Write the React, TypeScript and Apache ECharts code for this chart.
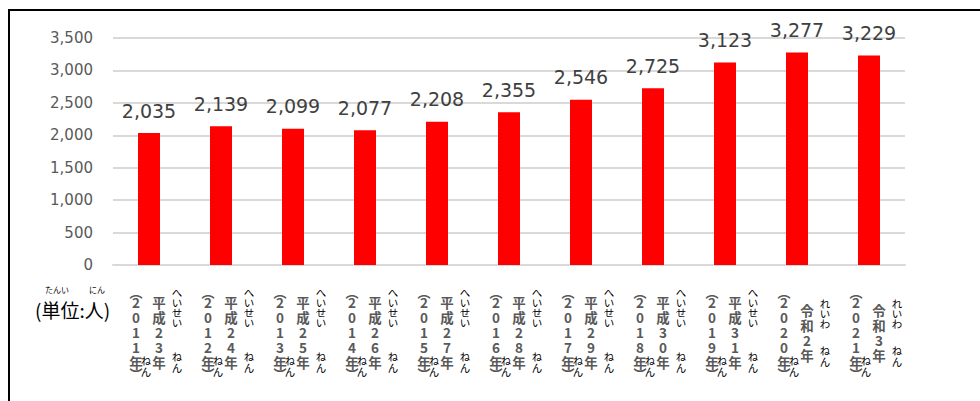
import React, { useEffect, useRef } from "react";
import * as echarts from "echarts";

const years = ["2011", "2012", "2013", "2014", "2015", "2016", "2017", "2018", "2019", "2020", "2021"];
const eraNames = ["平成23年", "平成24年", "平成25年", "平成26年", "平成27年", "平成28年", "平成29年", "平成30年", "平成31年", "令和2年", "令和3年"];
const eraKana = ["へいせい", "へいせい", "へいせい", "へいせい", "へいせい", "へいせい", "へいせい", "へいせい", "へいせい", "れいわ", "れいわ"];
const nenKana = "ねん";
const values = [2035, 2139, 2099, 2077, 2208, 2355, 2546, 2725, 3123, 3277, 3229];
const unitText = "(単位:人)";
const unitKana1 = "たんい";
const unitKana2 = "にん";

const JP = '"Noto Sans CJK JP", "Noto Sans", sans-serif';
const GRAY = "#595959";

export default function App() {
  const ref = useRef<HTMLDivElement>(null);
  useEffect(() => {
    if (!ref.current) return;
    const chart = echarts.init(ref.current, null, { renderer: "svg" });

    const yearFormatter = (v: string) =>
      ["{p|︵}", ...v.split("").map((c) => `{d|${c}}`), "{d|年}", "{q|︶}"].join("\n");
    const eraFormatter = (_v: string, i: number) => {
      const name = eraNames[i];
      const lines = name.split("").map((c) => `{d|${c}}`);
      if (name.length < 5) lines.unshift("{s| }");
      return lines.join("\n");
    };
    const kanaFormatter = (_v: string, i: number) => {
      const k = eraKana[i];
      const chars = k.split("").map((c) => `{k|${c}}`);
      const nen = nenKana.split("").map((c) => `{n|${c}}`);
      if (k.length === 4) return [...chars, "{g|　}", ...nen].join("\n");
      return ["{t|　}", ...chars, "{h|　}", ...nen].join("\n");
    };
    const rubyFormatter = () => nenKana.split("").map((c) => `{n|${c}}`).join("\n");

    const baseAxis = {
      type: "category" as const,
      data: years,
      position: "bottom" as const,
      gridIndex: 0,
      axisTick: { show: false },
    };

    chart.setOption({
      animation: false,
      grid: { left: 113, right: 75, top: 38, bottom: 136, containLabel: false },
      xAxis: [
        {
          ...baseAxis,
          axisLine: { show: true, lineStyle: { color: "#d9d9d9", width: 2 } },
          axisLabel: {
            interval: 0,
            margin: 23.5,
            align: "center",
            padding: [0, 26, 0, 0],
            formatter: yearFormatter,
            rich: {
              p: { fontFamily: JP, fontSize: 13, lineHeight: 6, color: GRAY, fontWeight: "bold" },
              d: { fontFamily: JP, fontSize: 13.5, lineHeight: 15, color: GRAY, fontWeight: "bold" },
              q: { fontFamily: JP, fontSize: 13, lineHeight: 8, color: GRAY, fontWeight: "bold" },
            },
          },
        },
        {
          ...baseAxis,
          axisLine: { show: false },
          axisLabel: {
            interval: 0,
            margin: 29.5,
            align: "center",
            padding: [0, 0, 0, 20],
            formatter: eraFormatter,
            rich: {
              d: { fontFamily: JP, fontSize: 13.5, lineHeight: 15, color: GRAY, fontWeight: "bold" },
              s: { fontSize: 8, lineHeight: 8 },
            },
          },
        },
        {
          ...baseAxis,
          axisLine: { show: false },
          axisLabel: {
            interval: 0,
            margin: 22,
            align: "center",
            padding: [0, 0, 0, 56],
            formatter: kanaFormatter,
            rich: {
              k: { fontFamily: JP, fontSize: 10.5, lineHeight: 10, color: "#000" },
              n: { fontFamily: JP, fontSize: 10.5, lineHeight: 11, color: "#000" },
              g: { fontSize: 10, lineHeight: 24 },
              t: { fontSize: 10, lineHeight: 11 },
              h: { fontSize: 10, lineHeight: 17 },
            },
          },
        },
        {
          ...baseAxis,
          axisLine: { show: false },
          axisLabel: {
            interval: 0,
            margin: 90,
            align: "center",
            padding: [0, 6, 0, 0],
            formatter: rubyFormatter,
            rich: {
              n: { fontFamily: JP, fontSize: 10.5, lineHeight: 11, color: "#000" },
            },
          },
        },
      ],
      yAxis: {
        type: "value",
        min: 0,
        max: 3500,
        interval: 500,
        axisLine: { show: false },
        axisTick: { show: false },
        splitLine: { lineStyle: { color: "#d9d9d9", width: 2 } },
        axisLabel: {
          margin: 20,
          color: GRAY,
          fontSize: 15,
          fontFamily: '"DejaVu Sans", sans-serif',
          formatter: (v: number) => v.toLocaleString("en-US"),
        },
      },
      series: [
        {
          type: "bar",
          xAxisIndex: 0,
          yAxisIndex: 0,
          data: values,
          barWidth: 22,
          itemStyle: { color: "#ff0000" },
          label: {
            show: true,
            position: "top",
            distance: 13,
            color: "#404040",
            fontSize: 19,
            fontFamily: '"DejaVu Sans", sans-serif',
            formatter: (p: any) => Number(p.value).toLocaleString("en-US"),
          },
        },
      ],
      graphic: [
        {
          type: "rect",
          shape: { x: 9, y: 10, width: 1200, height: 600 },
          style: { fill: "none", stroke: "#000", lineWidth: 2 },
          silent: true,
        },
        {
          type: "text",
          x: 35,
          y: 300,
          style: { text: unitText, font: `19px ${JP}`, fill: "#000" },
        },
        {
          type: "text",
          x: 45,
          y: 285,
          style: { text: unitKana1, font: `8px ${JP}`, fill: "#000" },
        },
        {
          type: "text",
          x: 89,
          y: 285,
          style: { text: unitKana2, font: `8px ${JP}`, fill: "#000" },
        },
      ],
    });
    return () => chart.dispose();
  }, []);
  return (
    <div
      ref={ref}
      style={{ position: "fixed", left: 0, top: 0, width: 980, height: 401, background: "#fff" }}
    />
  );
}
